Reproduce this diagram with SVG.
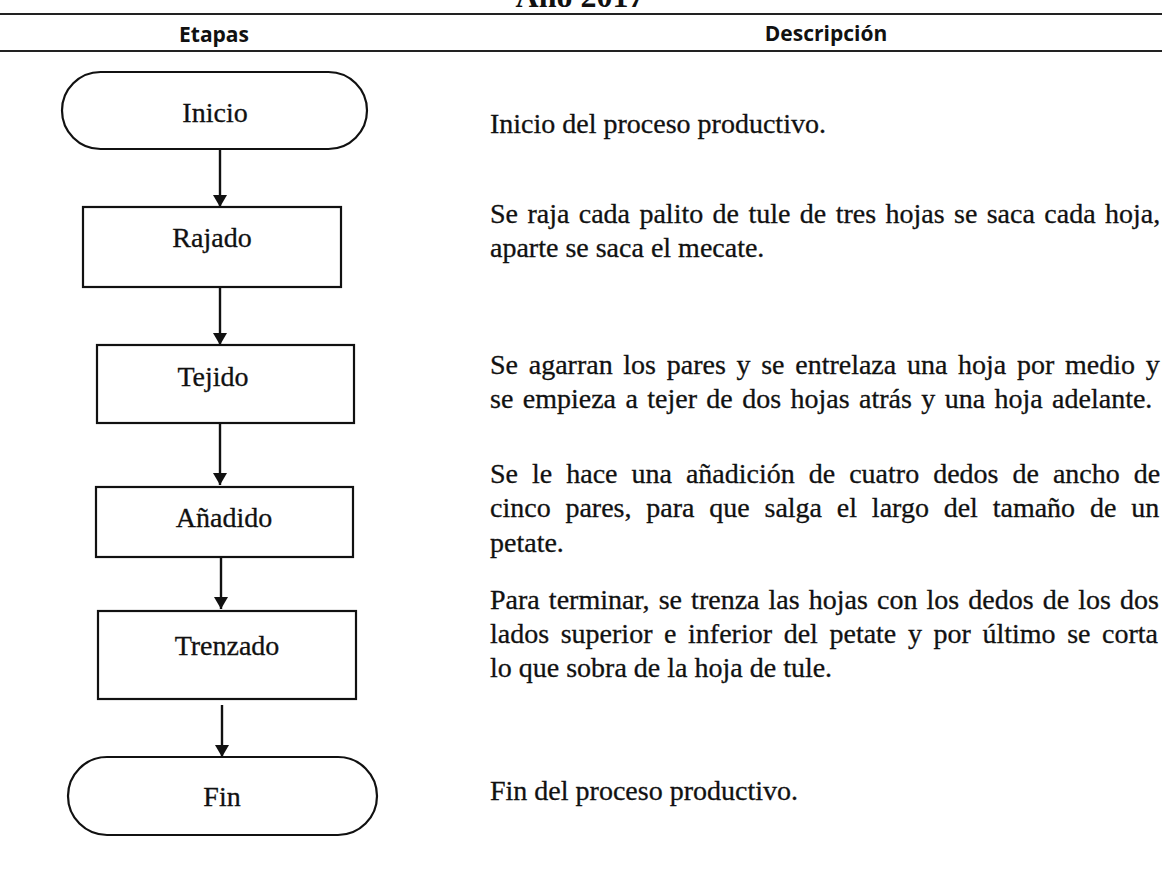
<svg xmlns="http://www.w3.org/2000/svg" width="1166" height="869" viewBox="0 0 1166 869">
<style>
.node rect{fill:#fff;stroke:#111;stroke-width:2.2}
.lbl{font-family:"Liberation Serif",serif;font-size:28px;fill:#111;text-anchor:middle;stroke:#111;stroke-width:0.3}
.desc{font-family:"Liberation Serif",serif;font-size:28px;fill:#111;stroke:#111;stroke-width:0.3}
.hdr{font-family:"Open Sans",sans-serif;font-weight:bold;font-size:21px;fill:#111;text-anchor:middle}
.rule{stroke:#222;stroke-width:2}
.conn line{stroke:#111;stroke-width:2.4}
</style>
<defs>
<marker id="ah" markerWidth="12" markerHeight="14" refX="12" refY="7" orient="auto" markerUnits="userSpaceOnUse">
<path d="M0,0 L12,7 L0,14 Z" fill="#111"/>
</marker>
</defs>
<rect width="1166" height="869" fill="#fff"/>
<text x="580" y="7" style="font-family:'Liberation Serif',serif;font-size:32px;font-weight:bold;text-anchor:middle;fill:#111">Año 2017</text>
<line class="rule" x1="0" y1="14" x2="1162" y2="14"/>
<text class="hdr" x="214" y="42">Etapas</text>
<text class="hdr" x="826" y="41">Descripción</text>
<line class="rule" x1="0" y1="51" x2="1162" y2="51"/>

<g id="connectors" class="conn">
<line x1="220" y1="149" x2="220" y2="207" marker-end="url(#ah)"/>
<line x1="220" y1="287" x2="220" y2="345" marker-end="url(#ah)"/>
<line x1="220" y1="423" x2="220" y2="485" marker-end="url(#ah)"/>
<line x1="221" y1="551" x2="221" y2="609" marker-end="url(#ah)"/>
<line x1="222" y1="705" x2="222" y2="757" marker-end="url(#ah)"/>
</g>

<g id="n-inicio" class="node"><rect x="62" y="72" width="305" height="77" rx="38.5"/><text class="lbl" x="215" y="122">Inicio</text></g>
<g id="n-rajado" class="node"><rect x="83" y="207" width="258" height="80"/><text class="lbl" x="212" y="247">Rajado</text></g>
<g id="n-tejido" class="node"><rect x="97" y="345" width="257" height="78"/><text class="lbl" x="213" y="386">Tejido</text></g>
<g id="n-anadido" class="node"><rect x="96" y="487" width="257" height="70"/><text class="lbl" x="224" y="527">Añadido</text></g>
<g id="n-trenzado" class="node"><rect x="98" y="611" width="258" height="88"/><text class="lbl" x="227" y="655">Trenzado</text></g>
<g id="n-fin" class="node"><rect x="68" y="757" width="309" height="78" rx="39"/><text class="lbl" x="222" y="806">Fin</text></g>

<g id="descriptions">
<text class="desc" x="490" y="133">Inicio del proceso productivo.</text>
<text class="desc" x="490" y="223" word-spacing="2.4">Se raja cada palito de tule de tres hojas se saca cada hoja,</text>
<text class="desc" x="490" y="257">aparte se saca el mecate.</text>
<text class="desc" x="490" y="374" word-spacing="3.7">Se agarran los pares y se entrelaza una hoja por medio y</text>
<text class="desc" x="490" y="408" word-spacing="2.4">se empieza a tejer de dos hojas atrás y una hoja adelante.</text>
<text class="desc" x="490" y="483" word-spacing="7">Se le hace una añadición de cuatro dedos de ancho de</text>
<text class="desc" x="490" y="517" word-spacing="7.8">cinco pares, para que salga el largo del tamaño de un</text>
<text class="desc" x="490" y="552">petate.</text>
<text class="desc" x="490" y="609" word-spacing="2.1">Para terminar, se trenza las hojas con los dedos de los dos</text>
<text class="desc" x="490" y="643" word-spacing="4.6">lados superior e inferior del petate y por último se corta</text>
<text class="desc" x="490" y="677">lo que sobra de la hoja de tule.</text>
<text class="desc" x="490" y="800">Fin del proceso productivo.</text>
</g>
</svg>
